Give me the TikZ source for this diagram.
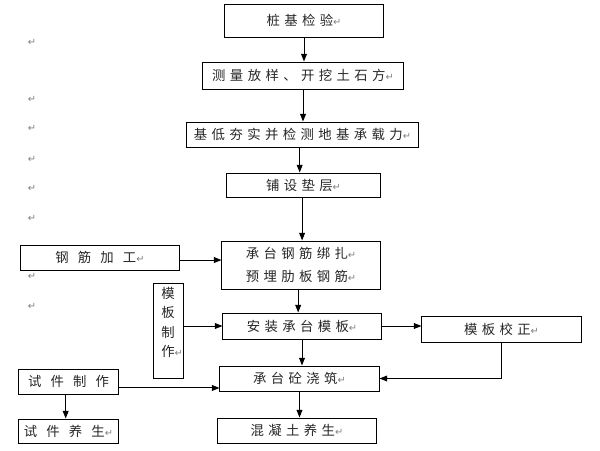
\documentclass[tikz,border=0pt]{standalone}
\usepackage{fontspec}
\newfontfamily\cjk[LetterSpace=33]{Noto Sans CJK SC}
\newfontfamily\retfont{DejaVu Sans}
\usetikzlibrary{arrows.meta}
\newcommand{\ret}{{\retfont\fontsize{7}{7}\selectfont\textcolor{gray}{↵}}}
\newcommand{\gap}{\hspace{6.5pt}}

\begin{document}
\begin{tikzpicture}[x=0.025cm,y=-0.025cm,
    box/.style={draw,line width=0.7pt,inner sep=0pt,align=center,text=black!85,
      font=\cjk\fontsize{9.5}{16}\selectfont},
    arr/.style={-{Triangle[length=5.5pt,width=4.2pt]},line width=0.7pt},
    retmark/.style={inner sep=0pt,text=gray,font=\retfont\fontsize{7}{7}\selectfont}]
    \useasboundingbox (0,0) rectangle (600,450);

    % main column
    \node [box,minimum width=3.95cm,minimum height=0.825cm] (jianyan) at (304,20.5) {桩基检验\ret};
    \node [box,minimum width=5cm,minimum height=0.675cm] (celiang) at (303,75.5) {测量放样、开挖土石方\ret};
    \node [box,minimum width=5.775cm,minimum height=0.625cm] (jidi) at (302.5,134.5) {基低夯实并检测地基承载力\ret};
    \node [box,minimum width=3.825cm,minimum height=0.6cm] (dianceng) at (303.5,185) {铺设垫层\ret};
    \node [box,minimum width=3.95cm,minimum height=1.2cm] (bangza) at (301,265) {承台钢筋绑扎\ret\\ 预埋肋板钢筋\ret};
    \node [box,minimum width=3.95cm,minimum height=0.65cm] (anzhuang) at (302,326) {安装承台模板\ret};
    \node [box,minimum width=3.975cm,minimum height=0.625cm] (jiaozhu) at (299.5,378.5) {承台砼浇筑\ret};
    \node [box,minimum width=3.95cm,minimum height=0.625cm] (yangsheng) at (297,430.5) {混凝土养生\ret};

    % side boxes
    \node [box,minimum width=3.95cm,minimum height=0.625cm] (gangjin) at (100,257.5) {钢\gap 筋\gap 加\gap 工\ret};
    \node [box,minimum width=0.75cm,minimum height=2.375cm,text depth=12pt,
      font=\cjk\fontsize{9.5}{13.8}\selectfont] (muban) at (168,330.5) {模\\板\\制\\作\rlap{\ret}};
    \node [box,minimum width=3.975cm,minimum height=0.65cm] (jiaozheng) at (501.5,329) {模板校正\ret};
    \node [box,minimum width=2.475cm,minimum height=0.625cm] (shijian) at (68.5,381.5) {试\gap 件\gap 制\gap 作};
    \node [box,minimum width=2.475cm,minimum height=0.6cm] (shijianys) at (68.5,431) {试\gap 件\gap 养\gap 生\ret};

    % stray paragraph marks
    \foreach \y in {42,99,128,159,188,218,276,306}
        \node [retmark] (r\y) at (32,\y) {↵};

    \draw [arr] (jianyan.south) -- (jianyan.south |- celiang.north);
    \draw [arr] (celiang.south) -- (celiang.south |- jidi.north);
    \draw [arr] ([xshift=-2pt]jidi.south) -- ([xshift=-2pt]jidi.south |- dianceng.north);
    \draw [arr] ([xshift=-1pt]dianceng.south) -- ([xshift=-1pt]dianceng.south |- bangza.north);
    \draw [arr] ([xshift=-2pt]bangza.south) -- ([xshift=-2pt]bangza.south |- anzhuang.north);
    \draw [arr] (anzhuang.south) -- (anzhuang.south |- jiaozhu.north);
    \draw [arr] (jiaozhu.south) -- (jiaozhu.south |- yangsheng.north);
    \draw [arr] ([yshift=-1.8pt]gangjin.east) -- ([yshift=-1.8pt]gangjin.east -| bangza.west);
    \draw [arr] (muban.east |- anzhuang) -- (anzhuang.west);
    \draw [arr] (anzhuang.east) -- (anzhuang.east -| jiaozheng.west);
    \draw [arr] (jiaozheng.south) |- (jiaozhu.east);
    \draw [arr] ([yshift=-4.6pt]shijian.east) -- ([yshift=-4.6pt]shijian.east -| jiaozhu.west);
    \draw [arr] ([xshift=-2pt]shijian.south) -- ([xshift=-2pt]shijian.south |- shijianys.north);
\end{tikzpicture}
\end{document}
